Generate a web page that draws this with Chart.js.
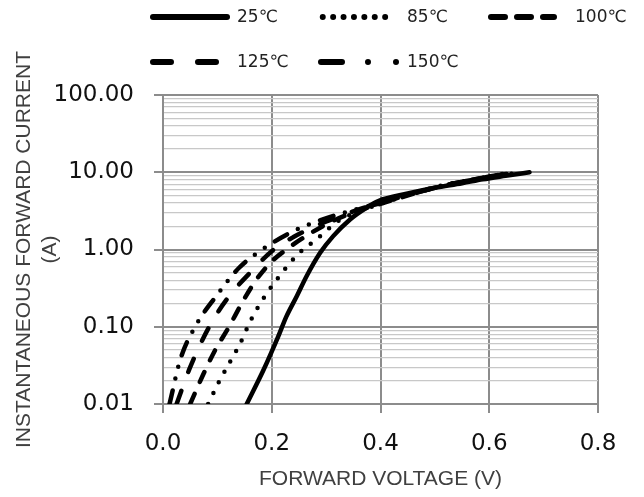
<!DOCTYPE html>
<html>
<head>
<meta charset="utf-8">
<script src="https://cdn.jsdelivr.net/npm/chart.js@4"></script>
<style>
  body { margin: 0; background: #fff; }
  #wrap { position: relative; width: 644px; height: 497px; }
  #legend { position: absolute; left: 0; top: 0; width: 644px; height: 90px; }
  #legend span {
    position: absolute;
    font: 17px "DejaVu Sans", sans-serif;
    color: #222;
    line-height: 20px;
  }
</style>
</head>
<body>
<div id="wrap">
  <canvas id="chart" width="644" height="497"></canvas>
  <div id="legend"></div>
</div>
<script>
const seriesLabels = ["25℃", "85℃", "100℃", "125℃", "150℃"];

const vf25 = [0.154, 0.185, 0.212, 0.227, 0.246, 0.264, 0.289, 0.313, 0.344, 0.374, 0.396, 0.45, 0.5, 0.55, 0.588, 0.63, 0.674];
const if25 = [0.01, 0.0277, 0.075, 0.136, 0.248, 0.45, 0.905, 1.49, 2.45, 3.47, 4.24, 5.3, 6.3, 7.2, 8.1, 9.0, 10];

const vf85 = [0.083, 0.104, 0.125, 0.142, 0.161, 0.186, 0.214, 0.246, 0.284, 0.322, 0.36, 0.4, 0.5, 0.6, 0.66];
const if85 = [0.01, 0.02, 0.037, 0.061, 0.12, 0.24, 0.45, 0.84, 1.39, 2.33, 3.1, 3.9, 6.4, 8.7, 10];

const vf100 = [0.05, 0.075, 0.096, 0.12, 0.148, 0.172, 0.2, 0.235, 0.27, 0.31, 0.36, 0.4, 0.5, 0.6, 0.655];
const if100 = [0.01, 0.025, 0.05, 0.096, 0.22, 0.41, 0.7, 1.1, 1.6, 2.3, 3.2, 3.9, 6.3, 8.8, 10];

const vf125 = [0.025, 0.05, 0.085, 0.12, 0.16, 0.2, 0.24, 0.28, 0.32, 0.36, 0.4, 0.5, 0.6, 0.645];
const if125 = [0.01, 0.03, 0.1, 0.24, 0.5, 0.95, 1.45, 2.0, 2.6, 3.3, 4.0, 6.3, 8.8, 10];

const vf150 = [0.012, 0.032, 0.059, 0.098, 0.14, 0.194, 0.24, 0.29, 0.34, 0.4, 0.5, 0.6, 0.64];
const if150 = [0.01, 0.038, 0.1, 0.25, 0.58, 1.13, 1.73, 2.4, 3.1, 4.0, 6.3, 8.8, 10];

const xTicks = [0, 0.2, 0.4, 0.6, 0.8];
const yDecades = [0.01, 0.1, 1, 10];
const yMinorSteps = [1, 2, 3, 4, 5, 6, 7, 8, 9];
const yTicks = yDecades
  .flatMap((d) => yMinorSteps.map((s) => +(d * s).toPrecision(3)))
  .concat([100]);

const toPoints = (xs, ys) =>
  xs.reduce((acc, x, i) => {
    acc.push({ x: x, y: ys[i] });

    return acc;
  }, []);

const isMajor = (v) => Math.abs(Math.log10(v) - Math.round(Math.log10(v))) < 1e-6;

const lineStyle = (dash) => ({
  borderColor: "#000",
  borderWidth: 4.5,
  borderDash: dash,
  borderCapStyle: "round",
  borderJoinStyle: "round",
  pointRadius: 0,
  cubicInterpolationMode: "monotone",
  fill: false,
});

const datasets = [
  { label: seriesLabels[0], data: toPoints(vf25, if25), ...lineStyle([]) },
  { label: seriesLabels[1], data: toPoints(vf85, if85), ...lineStyle([0, 12]) },
  { label: seriesLabels[2], data: toPoints(vf100, if100), ...lineStyle([11, 13]) },
  { label: seriesLabels[3], data: toPoints(vf125, if125), ...lineStyle([14, 20]) },
  { label: seriesLabels[4], data: toPoints(vf150, if150), ...lineStyle([14, 12, 0, 12, 0, 12]) },
];

// legend built as html so the dash samples keep real text next to them
const legendLayout = [
  { x1: 153, x2: 227, y: 17, dash: "", text: 237 },
  { x1: 322.75, x2: 386, y: 17, dash: "0 10.4", text: 407 },
  { x1: 491, x2: 554, y: 17, dash: "14 12", text: 575 },
  { x1: 153, x2: 217, y: 62, dash: "18 27", text: 237 },
  { x1: 321, x2: 397, y: 62, dash: "21 26 0 28 0 100", text: 407 },
];

const drawLegend = (el) => {
  let svg = '<svg width="644" height="90" style="position:absolute;left:0;top:0">';
  legendLayout.forEach((l) => {
    svg += `<line x1="${l.x1}" y1="${l.y}" x2="${l.x2}" y2="${l.y}" stroke="#000" stroke-width="6" stroke-linecap="round"` +
      (l.dash ? ` stroke-dasharray="${l.dash}"` : "") + " />";
  });
  svg += "</svg>";
  el.innerHTML = svg + legendLayout
    .map((l, i) => `<span style="left:${l.text}px;top:${l.y - 11}px">${seriesLabels[i]}</span>`)
    .join("");
};

drawLegend(document.getElementById("legend"));

const tickFont = { family: "'DejaVu Sans', sans-serif", size: 23 };
const titleFont = { family: "'Liberation Sans', Arial, sans-serif", size: 21 };

new Chart(document.getElementById("chart"), {
  type: "line",
  data: { datasets },
  options: {
    responsive: false,
    animation: false,
    devicePixelRatio: 1,
    layout: { padding: { top: 95, right: 46, left: 0, bottom: 0 } },
    plugins: {
      legend: { display: false },
      tooltip: { enabled: false },
    },
    scales: {
      x: {
        type: "linear",
        min: 0,
        max: 0.8,
        afterBuildTicks: (scale) => {
          scale.ticks = xTicks.map((v) => ({ value: v }));
        },
        afterFit: (scale) => {
          scale.height = 93;
        },
        ticks: {
          font: tickFont,
          color: "#111",
          padding: 17,
          maxRotation: 0,
          autoSkip: false,
          callback: (v) => v.toFixed(1),
        },
        grid: {
          color: "#8c8c8c",
          lineWidth: 2,
          tickLength: 9,
          tickColor: "#8c8c8c",
        },
        border: { color: "#8c8c8c", width: 2 },
        title: {
          display: true,
          text: "FORWARD VOLTAGE (V)",
          font: titleFont,
          color: "#404040",
          padding: { top: 4, bottom: 5 },
        },
      },
      y: {
        type: "logarithmic",
        min: 0.01,
        max: 100,
        afterBuildTicks: (scale) => {
          scale.ticks = yTicks.map((v) => ({ value: v, major: isMajor(v) }));
        },
        afterFit: (scale) => {
          scale.width = 163;
        },
        ticks: {
          font: tickFont,
          color: "#111",
          padding: 20,
          autoSkip: false,
          callback: (v) => (isMajor(v) ? v.toFixed(2) : ""),
        },
        grid: {
          color: (ctx) => (ctx.tick && isMajor(ctx.tick.value) ? "#8c8c8c" : "#c8c8c8"),
          lineWidth: (ctx) => (ctx.tick && isMajor(ctx.tick.value) ? 2 : 1.2),
          tickLength: 9,
          tickColor: (ctx) => (ctx.tick && isMajor(ctx.tick.value) ? "#8c8c8c" : "rgba(0,0,0,0)"),
        },
        border: { color: "#8c8c8c", width: 2 },
        title: {
          display: true,
          text: ["INSTANTANEOUS FORWARD CURRENT", "(A)"],
          font: titleFont,
          color: "#404040",
          padding: { top: 12, bottom: 4 },
        },
      },
    },
  },
});
</script>
</body>
</html>
